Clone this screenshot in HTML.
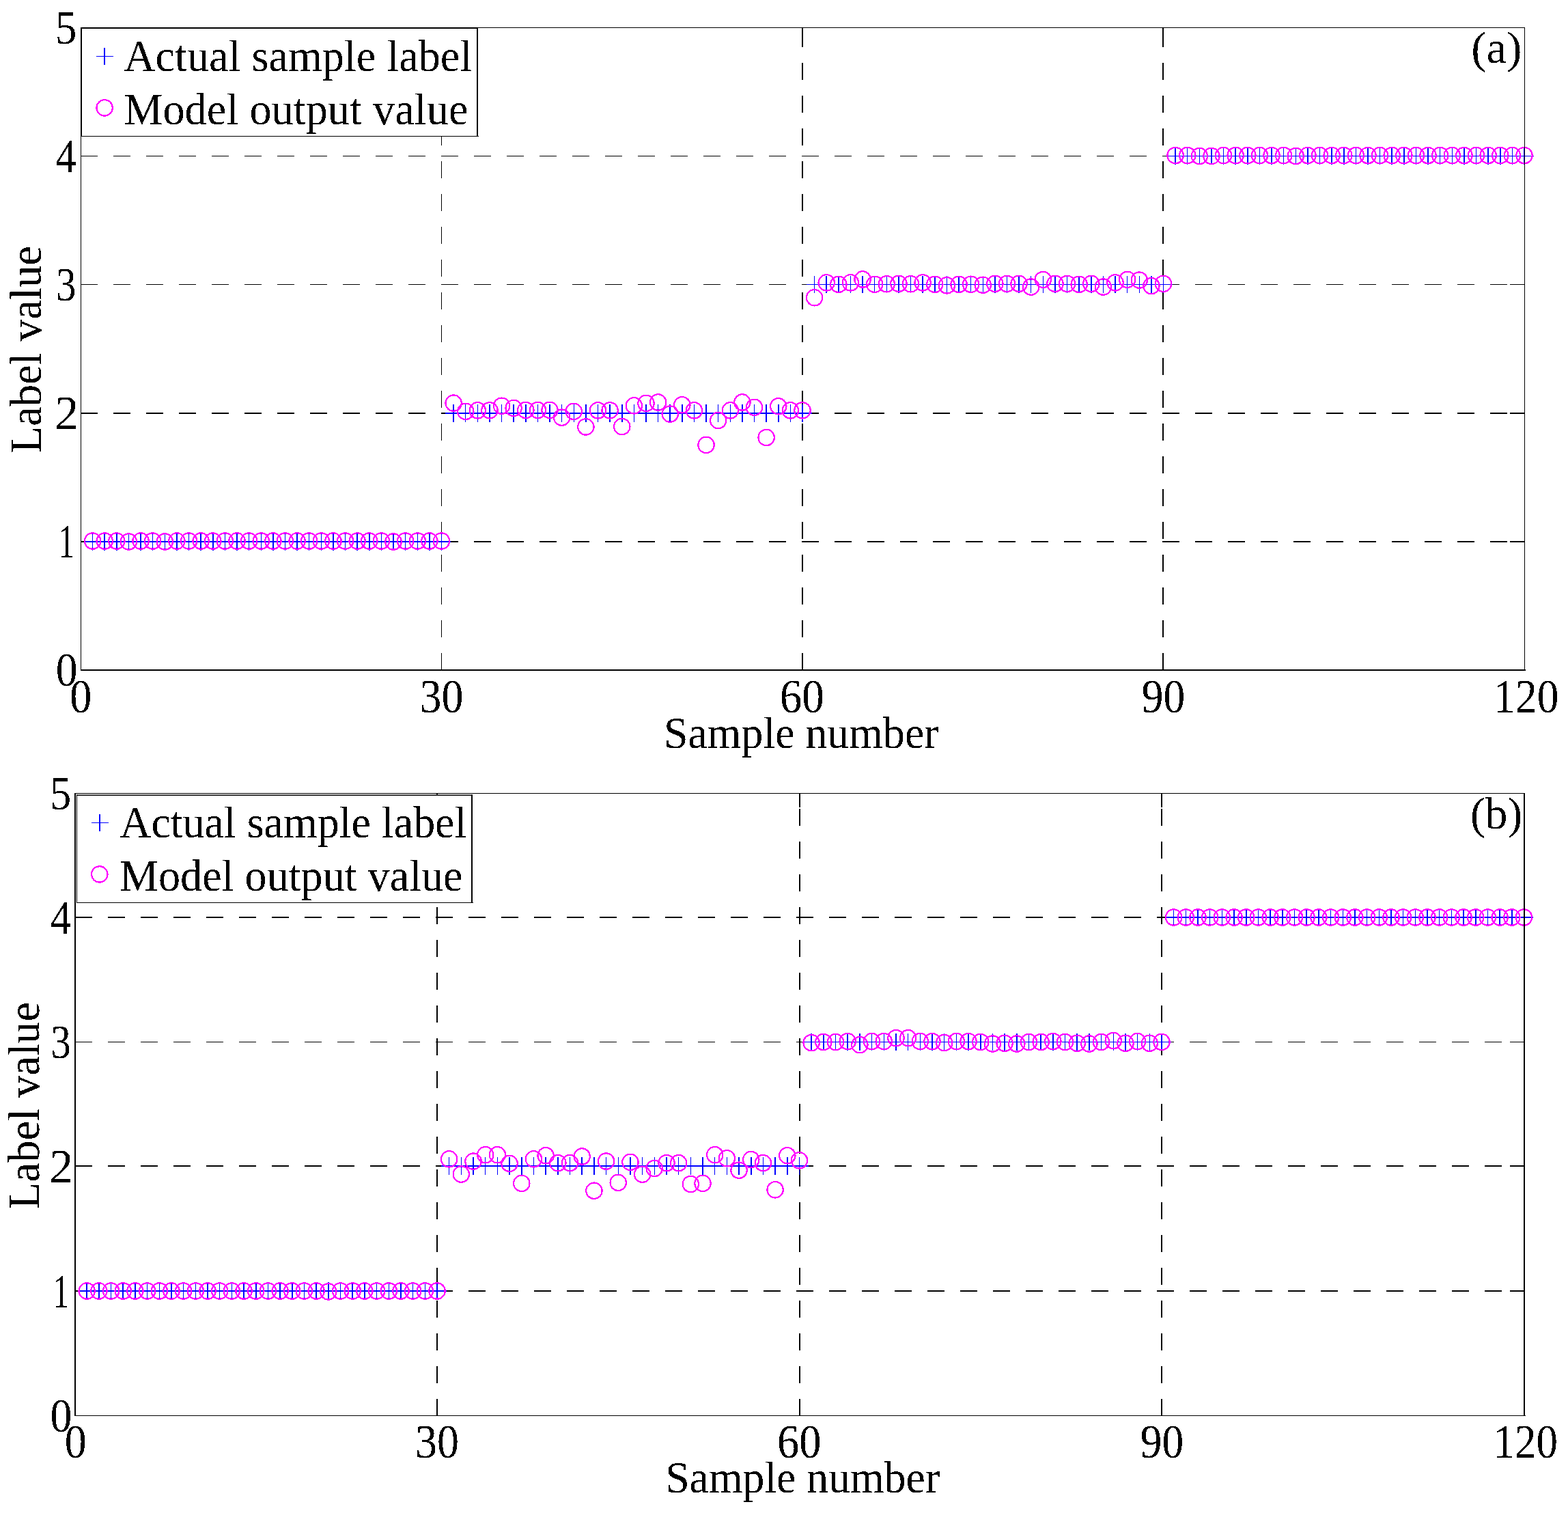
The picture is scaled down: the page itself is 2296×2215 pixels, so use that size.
<!DOCTYPE html>
<html lang="en">
<head>
<meta charset="utf-8">
<title>Actual sample label vs. model output value</title>
<style>
html,body{margin:0;padding:0;background:#fff}
body{width:2296px;height:2215px;overflow:hidden}
svg{display:block}
text{white-space:pre}
</style>
</head>
<body>
<svg width="2296" height="2215" viewBox="0 0 2296 2215">
<rect width="2296" height="2215" fill="#fff"/>
<defs>
<path id="v" d="M0 -13V12.5" fill="none" stroke="#00f" stroke-width="1.5"/>
<circle id="c" r="11.7" fill="none" stroke="#f0f" stroke-width="2.2"/>
<filter id="bw" x="-5%" y="-5%" width="110%" height="110%" color-interpolation-filters="sRGB"><feComponentTransfer><feFuncA type="discrete" tableValues="0 1"/></feComponentTransfer></filter>
</defs>
<g id="panel-a">
<g shape-rendering="crispEdges" fill="#000" stroke="#000">
<line x1="646.5" y1="981" x2="646.5" y2="40" stroke-width="1" stroke-dasharray="25 23"/>
<rect x="646" y="40" width="1" height="21" stroke="none"/>
<line x1="1175" y1="981" x2="1175" y2="40" stroke-width="2" stroke-dasharray="25 23"/>
<rect x="1174" y="40" width="2" height="21" stroke="none"/>
<line x1="1703" y1="981" x2="1703" y2="40" stroke-width="2" stroke-dasharray="25 23"/>
<rect x="1702" y="40" width="2" height="21" stroke="none"/>
<line x1="118" y1="793" x2="2233" y2="793" stroke-width="2" stroke-dasharray="25 23"/>
<rect x="2211" y="792" width="21" height="2" stroke="none"/>
<line x1="118" y1="605" x2="2233" y2="605" stroke-width="2" stroke-dasharray="25 23"/>
<rect x="2211" y="604" width="21" height="2" stroke="none"/>
<line x1="118" y1="416.5" x2="2233" y2="416.5" stroke-width="1" stroke-dasharray="25 23"/>
<rect x="2211" y="416" width="21" height="1" stroke="none"/>
<line x1="118" y1="228.5" x2="2233" y2="228.5" stroke-width="1" stroke-dasharray="25 23"/>
<rect x="2211" y="228" width="21" height="1" stroke="none"/>
</g>
<g shape-rendering="crispEdges">
<rect x="123.62" y="792" width="536.38" height="2" fill="#00f"/>
<rect x="652.12" y="604" width="536.38" height="2" fill="#00f"/>
<rect x="1180.62" y="416" width="536.38" height="1" fill="#00f"/>
<rect x="1709.12" y="228" width="536.38" height="1" fill="#00f"/>
<use href="#v" x="135.62" y="793"/>
<use href="#v" x="153.23" y="793"/>
<use href="#v" x="170.85" y="793"/>
<use href="#v" x="188.47" y="793"/>
<use href="#v" x="206.08" y="793"/>
<use href="#v" x="223.7" y="793"/>
<use href="#v" x="241.32" y="793"/>
<use href="#v" x="258.93" y="793"/>
<use href="#v" x="276.55" y="793"/>
<use href="#v" x="294.17" y="793"/>
<use href="#v" x="311.78" y="793"/>
<use href="#v" x="329.4" y="793"/>
<use href="#v" x="347.02" y="793"/>
<use href="#v" x="364.63" y="793"/>
<use href="#v" x="382.25" y="793"/>
<use href="#v" x="399.87" y="793"/>
<use href="#v" x="417.48" y="793"/>
<use href="#v" x="435.1" y="793"/>
<use href="#v" x="452.72" y="793"/>
<use href="#v" x="470.33" y="793"/>
<use href="#v" x="487.95" y="793"/>
<use href="#v" x="505.57" y="793"/>
<use href="#v" x="523.18" y="793"/>
<use href="#v" x="540.8" y="793"/>
<use href="#v" x="558.42" y="793"/>
<use href="#v" x="576.03" y="793"/>
<use href="#v" x="593.65" y="793"/>
<use href="#v" x="611.27" y="793"/>
<use href="#v" x="628.88" y="793"/>
<use href="#v" x="646.5" y="793"/>
<use href="#v" x="664.12" y="605"/>
<use href="#v" x="681.73" y="605"/>
<use href="#v" x="699.35" y="605"/>
<use href="#v" x="716.97" y="605"/>
<use href="#v" x="734.58" y="605"/>
<use href="#v" x="752.2" y="605"/>
<use href="#v" x="769.82" y="605"/>
<use href="#v" x="787.43" y="605"/>
<use href="#v" x="805.05" y="605"/>
<use href="#v" x="822.67" y="605"/>
<use href="#v" x="840.28" y="605"/>
<use href="#v" x="857.9" y="605"/>
<use href="#v" x="875.52" y="605"/>
<use href="#v" x="893.13" y="605"/>
<use href="#v" x="910.75" y="605"/>
<use href="#v" x="928.37" y="605"/>
<use href="#v" x="945.98" y="605"/>
<use href="#v" x="963.6" y="605"/>
<use href="#v" x="981.22" y="605"/>
<use href="#v" x="998.83" y="605"/>
<use href="#v" x="1016.45" y="605"/>
<use href="#v" x="1034.07" y="605"/>
<use href="#v" x="1051.68" y="605"/>
<use href="#v" x="1069.3" y="605"/>
<use href="#v" x="1086.92" y="605"/>
<use href="#v" x="1104.53" y="605"/>
<use href="#v" x="1122.15" y="605"/>
<use href="#v" x="1139.77" y="605"/>
<use href="#v" x="1157.38" y="605"/>
<use href="#v" x="1175" y="605"/>
<use href="#v" x="1192.62" y="416.5"/>
<use href="#v" x="1210.23" y="416.5"/>
<use href="#v" x="1227.85" y="416.5"/>
<use href="#v" x="1245.47" y="416.5"/>
<use href="#v" x="1263.08" y="416.5"/>
<use href="#v" x="1280.7" y="416.5"/>
<use href="#v" x="1298.32" y="416.5"/>
<use href="#v" x="1315.93" y="416.5"/>
<use href="#v" x="1333.55" y="416.5"/>
<use href="#v" x="1351.17" y="416.5"/>
<use href="#v" x="1368.78" y="416.5"/>
<use href="#v" x="1386.4" y="416.5"/>
<use href="#v" x="1404.02" y="416.5"/>
<use href="#v" x="1421.63" y="416.5"/>
<use href="#v" x="1439.25" y="416.5"/>
<use href="#v" x="1456.87" y="416.5"/>
<use href="#v" x="1474.48" y="416.5"/>
<use href="#v" x="1492.1" y="416.5"/>
<use href="#v" x="1509.72" y="416.5"/>
<use href="#v" x="1527.33" y="416.5"/>
<use href="#v" x="1544.95" y="416.5"/>
<use href="#v" x="1562.57" y="416.5"/>
<use href="#v" x="1580.18" y="416.5"/>
<use href="#v" x="1597.8" y="416.5"/>
<use href="#v" x="1615.42" y="416.5"/>
<use href="#v" x="1633.03" y="416.5"/>
<use href="#v" x="1650.65" y="416.5"/>
<use href="#v" x="1668.27" y="416.5"/>
<use href="#v" x="1685.88" y="416.5"/>
<use href="#v" x="1703.5" y="416.5"/>
<use href="#v" x="1721.12" y="228.5"/>
<use href="#v" x="1738.73" y="228.5"/>
<use href="#v" x="1756.35" y="228.5"/>
<use href="#v" x="1773.97" y="228.5"/>
<use href="#v" x="1791.58" y="228.5"/>
<use href="#v" x="1809.2" y="228.5"/>
<use href="#v" x="1826.82" y="228.5"/>
<use href="#v" x="1844.43" y="228.5"/>
<use href="#v" x="1862.05" y="228.5"/>
<use href="#v" x="1879.67" y="228.5"/>
<use href="#v" x="1897.28" y="228.5"/>
<use href="#v" x="1914.9" y="228.5"/>
<use href="#v" x="1932.52" y="228.5"/>
<use href="#v" x="1950.13" y="228.5"/>
<use href="#v" x="1967.75" y="228.5"/>
<use href="#v" x="1985.37" y="228.5"/>
<use href="#v" x="2002.98" y="228.5"/>
<use href="#v" x="2020.6" y="228.5"/>
<use href="#v" x="2038.22" y="228.5"/>
<use href="#v" x="2055.83" y="228.5"/>
<use href="#v" x="2073.45" y="228.5"/>
<use href="#v" x="2091.07" y="228.5"/>
<use href="#v" x="2108.68" y="228.5"/>
<use href="#v" x="2126.3" y="228.5"/>
<use href="#v" x="2143.92" y="228.5"/>
<use href="#v" x="2161.53" y="228.5"/>
<use href="#v" x="2179.15" y="228.5"/>
<use href="#v" x="2196.77" y="228.5"/>
<use href="#v" x="2214.38" y="228.5"/>
<use href="#v" x="2232" y="228.5"/>
<use href="#c" x="135.62" y="792.05"/>
<use href="#c" x="153.23" y="792.05"/>
<use href="#c" x="170.85" y="792.05"/>
<use href="#c" x="188.47" y="792.99"/>
<use href="#c" x="206.08" y="792.05"/>
<use href="#c" x="223.7" y="792.05"/>
<use href="#c" x="241.32" y="792.99"/>
<use href="#c" x="258.93" y="792.05"/>
<use href="#c" x="276.55" y="792.05"/>
<use href="#c" x="294.17" y="792.05"/>
<use href="#c" x="311.78" y="792.05"/>
<use href="#c" x="329.4" y="792.05"/>
<use href="#c" x="347.02" y="792.05"/>
<use href="#c" x="364.63" y="792.05"/>
<use href="#c" x="382.25" y="792.05"/>
<use href="#c" x="399.87" y="792.05"/>
<use href="#c" x="417.48" y="792.05"/>
<use href="#c" x="435.1" y="792.05"/>
<use href="#c" x="452.72" y="792.05"/>
<use href="#c" x="470.33" y="792.05"/>
<use href="#c" x="487.95" y="792.05"/>
<use href="#c" x="505.57" y="792.05"/>
<use href="#c" x="523.18" y="792.05"/>
<use href="#c" x="540.8" y="792.05"/>
<use href="#c" x="558.42" y="792.05"/>
<use href="#c" x="576.03" y="792.99"/>
<use href="#c" x="593.65" y="792.05"/>
<use href="#c" x="611.27" y="792.05"/>
<use href="#c" x="628.88" y="792.05"/>
<use href="#c" x="646.5" y="792.05"/>
<use href="#c" x="664.12" y="590.1"/>
<use href="#c" x="681.73" y="602.35"/>
<use href="#c" x="699.35" y="600.84"/>
<use href="#c" x="716.97" y="600.84"/>
<use href="#c" x="734.58" y="594.24"/>
<use href="#c" x="752.2" y="597.45"/>
<use href="#c" x="769.82" y="600.46"/>
<use href="#c" x="787.43" y="600.46"/>
<use href="#c" x="805.05" y="600.46"/>
<use href="#c" x="822.67" y="611.19"/>
<use href="#c" x="840.28" y="602.35"/>
<use href="#c" x="857.9" y="624.92"/>
<use href="#c" x="875.52" y="600.84"/>
<use href="#c" x="893.13" y="600.84"/>
<use href="#c" x="910.75" y="624.54"/>
<use href="#c" x="928.37" y="593.87"/>
<use href="#c" x="945.98" y="590.47"/>
<use href="#c" x="963.6" y="588.97"/>
<use href="#c" x="981.22" y="606.12"/>
<use href="#c" x="998.83" y="592.74"/>
<use href="#c" x="1016.45" y="600.84"/>
<use href="#c" x="1034.07" y="651.42"/>
<use href="#c" x="1051.68" y="615.52"/>
<use href="#c" x="1069.3" y="600.84"/>
<use href="#c" x="1086.92" y="588.97"/>
<use href="#c" x="1104.53" y="596.32"/>
<use href="#c" x="1122.15" y="640.52"/>
<use href="#c" x="1139.77" y="594.81"/>
<use href="#c" x="1157.38" y="600.84"/>
<use href="#c" x="1175" y="600.84"/>
<use href="#c" x="1192.62" y="435.72"/>
<use href="#c" x="1210.23" y="413.86"/>
<use href="#c" x="1227.85" y="416.3"/>
<use href="#c" x="1245.47" y="413.86"/>
<use href="#c" x="1263.08" y="408.97"/>
<use href="#c" x="1280.7" y="416.3"/>
<use href="#c" x="1298.32" y="415.74"/>
<use href="#c" x="1315.93" y="415.36"/>
<use href="#c" x="1333.55" y="415.74"/>
<use href="#c" x="1351.17" y="413.86"/>
<use href="#c" x="1368.78" y="416.3"/>
<use href="#c" x="1386.4" y="417.81"/>
<use href="#c" x="1404.02" y="416.3"/>
<use href="#c" x="1421.63" y="416.3"/>
<use href="#c" x="1439.25" y="417.24"/>
<use href="#c" x="1456.87" y="415.36"/>
<use href="#c" x="1474.48" y="415.36"/>
<use href="#c" x="1492.1" y="415.36"/>
<use href="#c" x="1509.72" y="420.07"/>
<use href="#c" x="1527.33" y="409.34"/>
<use href="#c" x="1544.95" y="415.36"/>
<use href="#c" x="1562.57" y="415.36"/>
<use href="#c" x="1580.18" y="416.3"/>
<use href="#c" x="1597.8" y="415.36"/>
<use href="#c" x="1615.42" y="420.07"/>
<use href="#c" x="1633.03" y="413.86"/>
<use href="#c" x="1650.65" y="409.34"/>
<use href="#c" x="1668.27" y="410.1"/>
<use href="#c" x="1685.88" y="418.56"/>
<use href="#c" x="1703.5" y="415.36"/>
<use href="#c" x="1721.12" y="227.55"/>
<use href="#c" x="1738.73" y="227.55"/>
<use href="#c" x="1756.35" y="228.49"/>
<use href="#c" x="1773.97" y="228.49"/>
<use href="#c" x="1791.58" y="227.55"/>
<use href="#c" x="1809.2" y="227.55"/>
<use href="#c" x="1826.82" y="227.55"/>
<use href="#c" x="1844.43" y="227.55"/>
<use href="#c" x="1862.05" y="227.55"/>
<use href="#c" x="1879.67" y="227.55"/>
<use href="#c" x="1897.28" y="228.49"/>
<use href="#c" x="1914.9" y="227.55"/>
<use href="#c" x="1932.52" y="227.55"/>
<use href="#c" x="1950.13" y="227.55"/>
<use href="#c" x="1967.75" y="227.55"/>
<use href="#c" x="1985.37" y="227.55"/>
<use href="#c" x="2002.98" y="227.55"/>
<use href="#c" x="2020.6" y="227.55"/>
<use href="#c" x="2038.22" y="227.55"/>
<use href="#c" x="2055.83" y="227.55"/>
<use href="#c" x="2073.45" y="227.55"/>
<use href="#c" x="2091.07" y="227.55"/>
<use href="#c" x="2108.68" y="227.55"/>
<use href="#c" x="2126.3" y="227.55"/>
<use href="#c" x="2143.92" y="227.55"/>
<use href="#c" x="2161.53" y="227.55"/>
<use href="#c" x="2179.15" y="227.55"/>
<use href="#c" x="2196.77" y="227.55"/>
<use href="#c" x="2214.38" y="227.55"/>
<use href="#c" x="2232" y="227.55"/>
</g>
<g shape-rendering="crispEdges" fill="#000">
<rect x="118" y="40" width="1" height="942"/>
<rect x="2232" y="40" width="1" height="942"/>
<rect x="118" y="40" width="2115" height="1"/>
<rect x="118" y="980" width="2116" height="2"/>
</g>
<rect x="119" y="41" width="581" height="159" fill="#fff"/>
<g fill="#000" shape-rendering="crispEdges">
<rect x="119" y="41" width="1" height="159"/>
<rect x="698" y="41" width="2" height="159"/>
<rect x="119" y="41" width="581" height="1"/>
<rect x="119" y="199" width="582" height="1"/>
</g>
<path d="M140.6 82.5h25M153.1 70v25" fill="none" stroke="#00f" stroke-width="1.5" shape-rendering="crispEdges"/>
<use href="#c" x="153.1" y="157.9" shape-rendering="crispEdges"/>
<g font-family="'Liberation Serif', 'Times New Roman', Times, serif" font-size="66.5" fill="#000" filter="url(#bw)">
<text transform="translate(181.17 104.2) scale(0.9659 1)">Actual sample label</text>
<text transform="translate(181.15 182.1) scale(0.9685 1)">Model output value</text>
<text transform="translate(2154.37 92.2) scale(1.0049 1)">(a)</text>
<text transform="translate(971.93 1094.5) scale(0.9604 1)">Sample number</text>
<text transform="translate(59.9 661.6) rotate(-90) translate(-1.86 0) scale(0.9728 1)">Label value</text>
<text transform="translate(81.67 1004) scale(0.9580 1.050)">0</text>
<text transform="translate(85.88 816) scale(0.6878 1.050)">1</text>
<text transform="translate(80.32 628) scale(1.0540 1.050)">2</text>
<text transform="translate(82.08 439.5) scale(0.8848 1.050)">3</text>
<text transform="translate(81.62 251.5) scale(0.9122 1.050)">4</text>
<text transform="translate(80.64 63.5) scale(0.9482 1.050)">5</text>
<text transform="translate(102.25 1042.8) scale(0.9687 1.050)">0</text>
<text transform="translate(614.53 1042.8) scale(0.9625 1.050)">30</text>
<text transform="translate(1141.69 1042.8) scale(0.9819 1.050)">60</text>
<text transform="translate(1671.75 1042.8) scale(0.9559 1.050)">90</text>
<text transform="translate(2187.12 1042.8) scale(0.9554 1.050)">120</text>
</g>
</g>
<g id="panel-b">
<g shape-rendering="crispEdges" fill="#000" stroke="#000">
<line x1="640" y1="2073" x2="640" y2="1161" stroke-width="2" stroke-dasharray="25 23"/>
<rect x="639" y="1161" width="2" height="21" stroke="none"/>
<line x1="1171" y1="2073" x2="1171" y2="1161" stroke-width="2" stroke-dasharray="25 23"/>
<rect x="1170" y="1161" width="2" height="21" stroke="none"/>
<line x1="1701" y1="2073" x2="1701" y2="1161" stroke-width="2" stroke-dasharray="25 23"/>
<rect x="1700" y="1161" width="2" height="21" stroke="none"/>
<line x1="110" y1="1890" x2="2233" y2="1890" stroke-width="2" stroke-dasharray="25 23"/>
<rect x="2211" y="1889" width="21" height="2" stroke="none"/>
<line x1="110" y1="1707" x2="2233" y2="1707" stroke-width="2" stroke-dasharray="25 23"/>
<rect x="2211" y="1706" width="21" height="2" stroke="none"/>
<line x1="110" y1="1525.5" x2="2233" y2="1525.5" stroke-width="1" stroke-dasharray="25 23"/>
<rect x="2211" y="1525" width="21" height="1" stroke="none"/>
<line x1="110" y1="1343" x2="2233" y2="1343" stroke-width="2" stroke-dasharray="25 23"/>
<rect x="2211" y="1342" width="21" height="2" stroke="none"/>
</g>
<g shape-rendering="crispEdges">
<rect x="115.18" y="1889" width="538.32" height="2" fill="#00f"/>
<rect x="645.68" y="1706" width="538.32" height="2" fill="#00f"/>
<rect x="1176.18" y="1525" width="538.32" height="1" fill="#00f"/>
<rect x="1706.68" y="1342" width="538.32" height="2" fill="#00f"/>
<use href="#v" x="127.18" y="1890"/>
<use href="#v" x="144.87" y="1890"/>
<use href="#v" x="162.55" y="1890"/>
<use href="#v" x="180.23" y="1890"/>
<use href="#v" x="197.92" y="1890"/>
<use href="#v" x="215.6" y="1890"/>
<use href="#v" x="233.28" y="1890"/>
<use href="#v" x="250.97" y="1890"/>
<use href="#v" x="268.65" y="1890"/>
<use href="#v" x="286.33" y="1890"/>
<use href="#v" x="304.02" y="1890"/>
<use href="#v" x="321.7" y="1890"/>
<use href="#v" x="339.38" y="1890"/>
<use href="#v" x="357.07" y="1890"/>
<use href="#v" x="374.75" y="1890"/>
<use href="#v" x="392.43" y="1890"/>
<use href="#v" x="410.12" y="1890"/>
<use href="#v" x="427.8" y="1890"/>
<use href="#v" x="445.48" y="1890"/>
<use href="#v" x="463.17" y="1890"/>
<use href="#v" x="480.85" y="1890"/>
<use href="#v" x="498.53" y="1890"/>
<use href="#v" x="516.22" y="1890"/>
<use href="#v" x="533.9" y="1890"/>
<use href="#v" x="551.58" y="1890"/>
<use href="#v" x="569.27" y="1890"/>
<use href="#v" x="586.95" y="1890"/>
<use href="#v" x="604.63" y="1890"/>
<use href="#v" x="622.32" y="1890"/>
<use href="#v" x="640" y="1890"/>
<use href="#v" x="657.68" y="1707"/>
<use href="#v" x="675.37" y="1707"/>
<use href="#v" x="693.05" y="1707"/>
<use href="#v" x="710.73" y="1707"/>
<use href="#v" x="728.42" y="1707"/>
<use href="#v" x="746.1" y="1707"/>
<use href="#v" x="763.78" y="1707"/>
<use href="#v" x="781.47" y="1707"/>
<use href="#v" x="799.15" y="1707"/>
<use href="#v" x="816.83" y="1707"/>
<use href="#v" x="834.52" y="1707"/>
<use href="#v" x="852.2" y="1707"/>
<use href="#v" x="869.88" y="1707"/>
<use href="#v" x="887.57" y="1707"/>
<use href="#v" x="905.25" y="1707"/>
<use href="#v" x="922.93" y="1707"/>
<use href="#v" x="940.62" y="1707"/>
<use href="#v" x="958.3" y="1707"/>
<use href="#v" x="975.98" y="1707"/>
<use href="#v" x="993.67" y="1707"/>
<use href="#v" x="1011.35" y="1707"/>
<use href="#v" x="1029.03" y="1707"/>
<use href="#v" x="1046.72" y="1707"/>
<use href="#v" x="1064.4" y="1707"/>
<use href="#v" x="1082.08" y="1707"/>
<use href="#v" x="1099.77" y="1707"/>
<use href="#v" x="1117.45" y="1707"/>
<use href="#v" x="1135.13" y="1707"/>
<use href="#v" x="1152.82" y="1707"/>
<use href="#v" x="1170.5" y="1707"/>
<use href="#v" x="1188.18" y="1525.5"/>
<use href="#v" x="1205.87" y="1525.5"/>
<use href="#v" x="1223.55" y="1525.5"/>
<use href="#v" x="1241.23" y="1525.5"/>
<use href="#v" x="1258.92" y="1525.5"/>
<use href="#v" x="1276.6" y="1525.5"/>
<use href="#v" x="1294.28" y="1525.5"/>
<use href="#v" x="1311.97" y="1525.5"/>
<use href="#v" x="1329.65" y="1525.5"/>
<use href="#v" x="1347.33" y="1525.5"/>
<use href="#v" x="1365.02" y="1525.5"/>
<use href="#v" x="1382.7" y="1525.5"/>
<use href="#v" x="1400.38" y="1525.5"/>
<use href="#v" x="1418.07" y="1525.5"/>
<use href="#v" x="1435.75" y="1525.5"/>
<use href="#v" x="1453.43" y="1525.5"/>
<use href="#v" x="1471.12" y="1525.5"/>
<use href="#v" x="1488.8" y="1525.5"/>
<use href="#v" x="1506.48" y="1525.5"/>
<use href="#v" x="1524.17" y="1525.5"/>
<use href="#v" x="1541.85" y="1525.5"/>
<use href="#v" x="1559.53" y="1525.5"/>
<use href="#v" x="1577.22" y="1525.5"/>
<use href="#v" x="1594.9" y="1525.5"/>
<use href="#v" x="1612.58" y="1525.5"/>
<use href="#v" x="1630.27" y="1525.5"/>
<use href="#v" x="1647.95" y="1525.5"/>
<use href="#v" x="1665.63" y="1525.5"/>
<use href="#v" x="1683.32" y="1525.5"/>
<use href="#v" x="1701" y="1525.5"/>
<use href="#v" x="1718.68" y="1343"/>
<use href="#v" x="1736.37" y="1343"/>
<use href="#v" x="1754.05" y="1343"/>
<use href="#v" x="1771.73" y="1343"/>
<use href="#v" x="1789.42" y="1343"/>
<use href="#v" x="1807.1" y="1343"/>
<use href="#v" x="1824.78" y="1343"/>
<use href="#v" x="1842.47" y="1343"/>
<use href="#v" x="1860.15" y="1343"/>
<use href="#v" x="1877.83" y="1343"/>
<use href="#v" x="1895.52" y="1343"/>
<use href="#v" x="1913.2" y="1343"/>
<use href="#v" x="1930.88" y="1343"/>
<use href="#v" x="1948.57" y="1343"/>
<use href="#v" x="1966.25" y="1343"/>
<use href="#v" x="1983.93" y="1343"/>
<use href="#v" x="2001.62" y="1343"/>
<use href="#v" x="2019.3" y="1343"/>
<use href="#v" x="2036.98" y="1343"/>
<use href="#v" x="2054.67" y="1343"/>
<use href="#v" x="2072.35" y="1343"/>
<use href="#v" x="2090.03" y="1343"/>
<use href="#v" x="2107.72" y="1343"/>
<use href="#v" x="2125.4" y="1343"/>
<use href="#v" x="2143.08" y="1343"/>
<use href="#v" x="2160.77" y="1343"/>
<use href="#v" x="2178.45" y="1343"/>
<use href="#v" x="2196.13" y="1343"/>
<use href="#v" x="2213.82" y="1343"/>
<use href="#v" x="2231.5" y="1343"/>
<use href="#c" x="127.18" y="1890"/>
<use href="#c" x="144.87" y="1890"/>
<use href="#c" x="162.55" y="1890"/>
<use href="#c" x="180.23" y="1890"/>
<use href="#c" x="197.92" y="1890"/>
<use href="#c" x="215.6" y="1890"/>
<use href="#c" x="233.28" y="1890"/>
<use href="#c" x="250.97" y="1890"/>
<use href="#c" x="268.65" y="1890"/>
<use href="#c" x="286.33" y="1890"/>
<use href="#c" x="304.02" y="1890"/>
<use href="#c" x="321.7" y="1890"/>
<use href="#c" x="339.38" y="1890"/>
<use href="#c" x="357.07" y="1890"/>
<use href="#c" x="374.75" y="1890"/>
<use href="#c" x="392.43" y="1890"/>
<use href="#c" x="410.12" y="1890"/>
<use href="#c" x="427.8" y="1890"/>
<use href="#c" x="445.48" y="1890"/>
<use href="#c" x="463.17" y="1890"/>
<use href="#c" x="480.85" y="1890.91"/>
<use href="#c" x="498.53" y="1890"/>
<use href="#c" x="516.22" y="1890"/>
<use href="#c" x="533.9" y="1890"/>
<use href="#c" x="551.58" y="1890"/>
<use href="#c" x="569.27" y="1890"/>
<use href="#c" x="586.95" y="1890"/>
<use href="#c" x="604.63" y="1890"/>
<use href="#c" x="622.32" y="1890"/>
<use href="#c" x="640" y="1890"/>
<use href="#c" x="657.68" y="1696.84"/>
<use href="#c" x="675.37" y="1719.08"/>
<use href="#c" x="693.05" y="1700.1"/>
<use href="#c" x="710.73" y="1690.66"/>
<use href="#c" x="728.42" y="1690.66"/>
<use href="#c" x="746.1" y="1703.37"/>
<use href="#c" x="763.78" y="1732.44"/>
<use href="#c" x="781.47" y="1696.84"/>
<use href="#c" x="799.15" y="1691.75"/>
<use href="#c" x="816.83" y="1702.64"/>
<use href="#c" x="834.52" y="1702.64"/>
<use href="#c" x="852.2" y="1693.02"/>
<use href="#c" x="869.88" y="1743.23"/>
<use href="#c" x="887.57" y="1700.1"/>
<use href="#c" x="905.25" y="1731.34"/>
<use href="#c" x="922.93" y="1701.37"/>
<use href="#c" x="940.62" y="1719.26"/>
<use href="#c" x="958.3" y="1710.48"/>
<use href="#c" x="975.98" y="1702.64"/>
<use href="#c" x="993.67" y="1702.64"/>
<use href="#c" x="1011.35" y="1733.54"/>
<use href="#c" x="1029.03" y="1732.44"/>
<use href="#c" x="1046.72" y="1690.66"/>
<use href="#c" x="1064.4" y="1695.75"/>
<use href="#c" x="1082.08" y="1713.22"/>
<use href="#c" x="1099.77" y="1697.56"/>
<use href="#c" x="1117.45" y="1702.64"/>
<use href="#c" x="1135.13" y="1741.77"/>
<use href="#c" x="1152.82" y="1691.75"/>
<use href="#c" x="1170.5" y="1698.83"/>
<use href="#c" x="1188.18" y="1526.59"/>
<use href="#c" x="1205.87" y="1525.5"/>
<use href="#c" x="1223.55" y="1525.5"/>
<use href="#c" x="1241.23" y="1524.59"/>
<use href="#c" x="1258.92" y="1529.67"/>
<use href="#c" x="1276.6" y="1524.59"/>
<use href="#c" x="1294.28" y="1524.59"/>
<use href="#c" x="1311.97" y="1519.66"/>
<use href="#c" x="1329.65" y="1519.66"/>
<use href="#c" x="1347.33" y="1524.59"/>
<use href="#c" x="1365.02" y="1524.59"/>
<use href="#c" x="1382.7" y="1526.59"/>
<use href="#c" x="1400.38" y="1524.59"/>
<use href="#c" x="1418.07" y="1524.59"/>
<use href="#c" x="1435.75" y="1525.5"/>
<use href="#c" x="1453.43" y="1528.04"/>
<use href="#c" x="1471.12" y="1527.32"/>
<use href="#c" x="1488.8" y="1528.04"/>
<use href="#c" x="1506.48" y="1525.5"/>
<use href="#c" x="1524.17" y="1525.5"/>
<use href="#c" x="1541.85" y="1524.59"/>
<use href="#c" x="1559.53" y="1525.5"/>
<use href="#c" x="1577.22" y="1527.32"/>
<use href="#c" x="1594.9" y="1528.04"/>
<use href="#c" x="1612.58" y="1525.5"/>
<use href="#c" x="1630.27" y="1523.49"/>
<use href="#c" x="1647.95" y="1527.32"/>
<use href="#c" x="1665.63" y="1524.59"/>
<use href="#c" x="1683.32" y="1527.32"/>
<use href="#c" x="1701" y="1525.5"/>
<use href="#c" x="1718.68" y="1343"/>
<use href="#c" x="1736.37" y="1343"/>
<use href="#c" x="1754.05" y="1343"/>
<use href="#c" x="1771.73" y="1343"/>
<use href="#c" x="1789.42" y="1343"/>
<use href="#c" x="1807.1" y="1343"/>
<use href="#c" x="1824.78" y="1343"/>
<use href="#c" x="1842.47" y="1343"/>
<use href="#c" x="1860.15" y="1343"/>
<use href="#c" x="1877.83" y="1343"/>
<use href="#c" x="1895.52" y="1343"/>
<use href="#c" x="1913.2" y="1343"/>
<use href="#c" x="1930.88" y="1343"/>
<use href="#c" x="1948.57" y="1343"/>
<use href="#c" x="1966.25" y="1343"/>
<use href="#c" x="1983.93" y="1343"/>
<use href="#c" x="2001.62" y="1343"/>
<use href="#c" x="2019.3" y="1343"/>
<use href="#c" x="2036.98" y="1343"/>
<use href="#c" x="2054.67" y="1343"/>
<use href="#c" x="2072.35" y="1343"/>
<use href="#c" x="2090.03" y="1343"/>
<use href="#c" x="2107.72" y="1343"/>
<use href="#c" x="2125.4" y="1343"/>
<use href="#c" x="2143.08" y="1343"/>
<use href="#c" x="2160.77" y="1343"/>
<use href="#c" x="2178.45" y="1343"/>
<use href="#c" x="2196.13" y="1343"/>
<use href="#c" x="2213.82" y="1343"/>
<use href="#c" x="2231.5" y="1343"/>
</g>
<g shape-rendering="crispEdges" fill="#000">
<rect x="109" y="1161" width="2" height="912"/>
<rect x="2231" y="1161" width="2" height="912"/>
<rect x="109" y="1161" width="2124" height="1"/>
<rect x="109" y="2072" width="2125" height="1"/>
</g>
<rect x="112" y="1163.4" width="580" height="158.6" fill="#fff"/>
<g fill="#000">
<rect x="112" y="1163.4" width="1" height="158.6"/>
<rect x="690" y="1163.4" width="2" height="158.6"/>
<rect x="112" y="1163.4" width="580" height="1.5"/>
<rect x="112" y="1321" width="581" height="1"/>
</g>
<path d="M133.7 1204.6h25M146.2 1192.1v25" fill="none" stroke="#00f" stroke-width="1.5" shape-rendering="crispEdges"/>
<use href="#c" x="145.8" y="1279.9" shape-rendering="crispEdges"/>
<g font-family="'Liberation Serif', 'Times New Roman', Times, serif" font-size="66.5" fill="#000" filter="url(#bw)">
<text transform="translate(175.17 1226.1) scale(0.9623 1)">Actual sample label</text>
<text transform="translate(174.95 1303.8) scale(0.9652 1)">Model output value</text>
<text transform="translate(2152.93 1213.1) scale(0.9832 1)">(b)</text>
<text transform="translate(974.13 2184.8) scale(0.9592 1)">Sample number</text>
<text transform="translate(57.2 1768.2) rotate(-90) translate(-1.86 0) scale(0.9715 1)">Label value</text>
<text transform="translate(73.56 2096.1) scale(0.9616 1.050)">0</text>
<text transform="translate(77.98 1913.6) scale(0.6878 1.050)">1</text>
<text transform="translate(72.32 1730.6) scale(1.0540 1.050)">2</text>
<text transform="translate(74.6 1549.1) scale(0.8775 1.050)">3</text>
<text transform="translate(73.72 1366.6) scale(0.9122 1.050)">4</text>
<text transform="translate(73.31 1185.1) scale(0.9296 1.050)">5</text>
<text transform="translate(94.76 2133.8) scale(0.9616 1.050)">0</text>
<text transform="translate(608.03 2133.8) scale(0.9625 1.050)">30</text>
<text transform="translate(1138.03 2133.8) scale(0.9704 1.050)">60</text>
<text transform="translate(1669.75 2133.8) scale(0.9559 1.050)">90</text>
<text transform="translate(2186.56 2133.8) scale(0.9478 1.050)">120</text>
</g>
</g>
</svg>
</body>
</html>
